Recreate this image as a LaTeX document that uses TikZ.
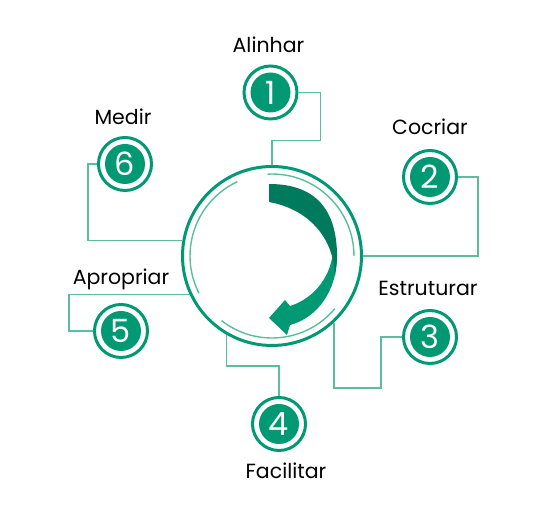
\documentclass[tikz,border=0pt]{standalone}
\usepackage{fontspec}
\setmainfont{Poppins}
\usetikzlibrary{positioning}

\definecolor{leaf}{RGB}{0,153,115}
\definecolor{leafdark}{RGB}{0,122,92}
\definecolor{leaflight}{RGB}{90,190,158}

\begin{document}
\begin{tikzpicture}[x=1pt,y=1pt,
		stage/.style={circle,draw=leaf,line width=3pt,minimum size=53pt,inner sep=0pt,
			text=white,font=\fontsize{32}{32}\selectfont,
			path picture={\fill[leaf] (path picture bounding box.center) circle (20);}},
		lbl/.style={inner sep=0pt,text height=15pt,text depth=0pt,font=\fontsize{20.5}{20.5}\selectfont},
		link/.style={draw=leaflight,line width=1.2pt},
		track/.style={draw=leaflight,line width=1.4pt}]
		\useasboundingbox (0,0) rectangle (536,516);
		
		% Define the central ring
		\node[circle,draw=leaf,line width=3pt,minimum size=179pt,inner sep=0pt] (ring) at (272,260) {};
		
		% Draw the thin inner tracks
		\draw[track] (ring.center) ++(93:82) arc[start angle=93,end angle=0,radius=82];
		\draw[track] (ring.center) ++(-40:82) arc[start angle=-40,end angle=-128,radius=82];
		\draw[track] (ring.center) ++(207:82) arc[start angle=207,end angle=115,radius=82];
		
		% Draw the curved arrow
		\begin{scope}[shift={(ring.center)}]
			\fill[leaf] (65,4) -- (65,0) .. controls (65,-35) and (45,-62) .. (18,-69) -- (15,-79) -- (-3,-62)
				-- (13,-44) -- (18,-50) .. controls (38,-44) and (58,-25) .. (61,4) -- cycle;
			\fill[leafdark] (-3,72) .. controls (45,72) and (66,45) .. (65,-4) -- (63,-20)
				.. controls (62,15) and (40,46) .. (-3,54) -- cycle;
		\end{scope}
		
		% Draw the numbered stages
		\node[stage] (n1) at (270.5,423.5) {1};
		\node[stage] (n2) at (430,339) {2};
		\node[stage] (n3) at (430,179) {3};
		\node[stage] (n4) at (279,92) {4};
		\node[stage] (n5) at (121,185) {5};
		\node[stage] (n6) at (125,352) {6};
		
		% Draw the labels
		\node[lbl,above=11.5pt of n1,xshift=-2pt] (t1) {Alinhar};
		\node[lbl,above=14pt of n2] (t2) {Cocriar};
		\node[lbl,above=13pt of n3,xshift=-2pt] (t3) {Estruturar};
		\node[lbl,below=11pt of n4,xshift=7pt] (t4) {Facilitar};
		\node[lbl,above=18pt of n5] (t5) {Apropriar};
		\node[lbl,above=11pt of n6,xshift=-2pt] (t6) {Medir};
		
		% Draw the connectors
		\draw[link] (n1.east) -| ++(22,-48) -| (ring.north);
		\draw[link] (n2.east) -- ++(20,0) |- (ring.east);
		\draw[link] (n3.west) -- ++(-21,0) -- ++(0,-51) -| (ring.-47);
		\draw[link] (n4.north) -- ++(0,30) -| (ring.240);
		\draw[link] (n5.west) -- ++(-24,0) |- (ring.205);
		\draw[link] (n6.west) -- ++(-9,0) |- (ring.170);
		
	\end{tikzpicture}
\end{document}
